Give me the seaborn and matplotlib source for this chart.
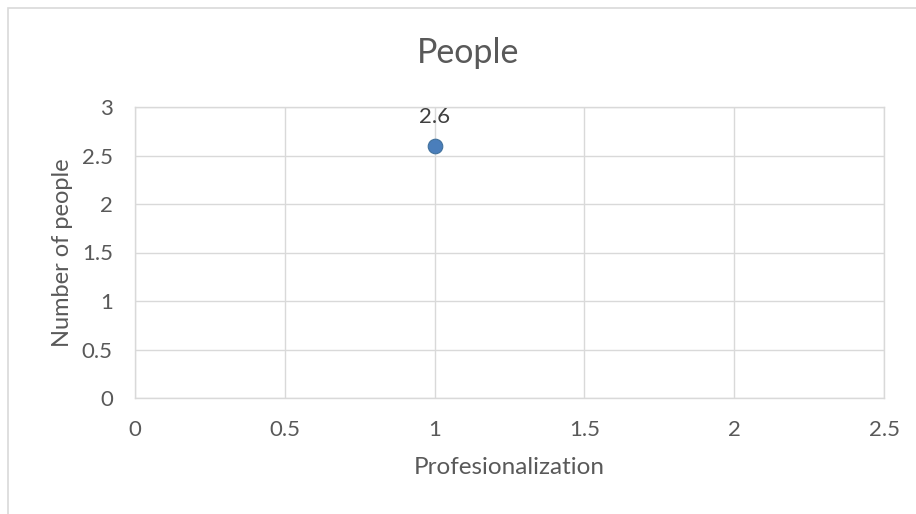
import matplotlib
matplotlib.use("Agg")
import matplotlib.pyplot as plt
import matplotlib.patches as mpatches
import seaborn as sns
import pandas as pd

x_vals = [1]
y_vals = [2.6]
point_labels = ["2.6"]
x_ticks = [0, 0.5, 1, 1.5, 2, 2.5]
x_tick_labels = ["0", "0.5", "1", "1.5", "2", "2.5"]
y_ticks = [0, 0.5, 1, 1.5, 2, 2.5, 3]
y_tick_labels = ["0", "0.5", "1", "1.5", "2", "2.5", "3"]
title = "People"
x_label = "Profesionalization"
y_label = "Number of people"

sns.set_theme(style="white")
plt.rcParams['font.family'] = ['Lato', 'DejaVu Sans']
text_color = "#595959"
grid_color = "#d9d9d9"

W, H = 916, 514
fig = plt.figure(figsize=(W / 100, H / 100), dpi=100)
ax = fig.add_axes([135 / W, 1 - 398 / H, (884 - 135) / W, (398 - 107) / H])

df = pd.DataFrame({"x": x_vals, "y": y_vals})
sns.scatterplot(data=df, x="x", y="y", ax=ax, s=110, color="#4a7ebb",
                edgecolor="#41719c", linewidth=0.8, zorder=5, clip_on=False)

for xv, yv, lab in zip(x_vals, y_vals, point_labels):
    ax.annotate(lab, (xv, yv), xytext=(0, 13.5), textcoords="offset points",
                ha="center", va="bottom", fontsize=16, color="#404040")

ax.set_xlim(x_ticks[0], x_ticks[-1])
ax.set_ylim(y_ticks[0], y_ticks[-1])
ax.set_xticks(x_ticks)
ax.set_xticklabels(x_tick_labels)
ax.set_yticks(y_ticks)
ax.set_yticklabels(y_tick_labels)
ax.grid(True, color=grid_color, linewidth=1)
for sp in ax.spines.values():
    sp.set_color(grid_color)
    sp.set_linewidth(1)
ax.tick_params(axis="both", length=0, labelsize=16, colors=text_color)
ax.tick_params(axis="x", pad=16)
ax.tick_params(axis="y", pad=16)
ax.set_xlabel(x_label, fontsize=17.5, color=text_color, labelpad=12)
ax.set_ylabel(y_label, fontsize=17, color=text_color, labelpad=6)

fig.text(468 / W, 1 - 63 / H, title, ha="center", va="baseline", fontsize=24.5, color=text_color)

rect = mpatches.Rectangle((8 / W, -0.1), 1.2, 1 - 8 / H + 0.1, transform=fig.transFigure,
                          fill=False, edgecolor=grid_color, linewidth=1.2, clip_on=False)
fig.patches.append(rect)

fig.savefig("out.png", dpi=100)
